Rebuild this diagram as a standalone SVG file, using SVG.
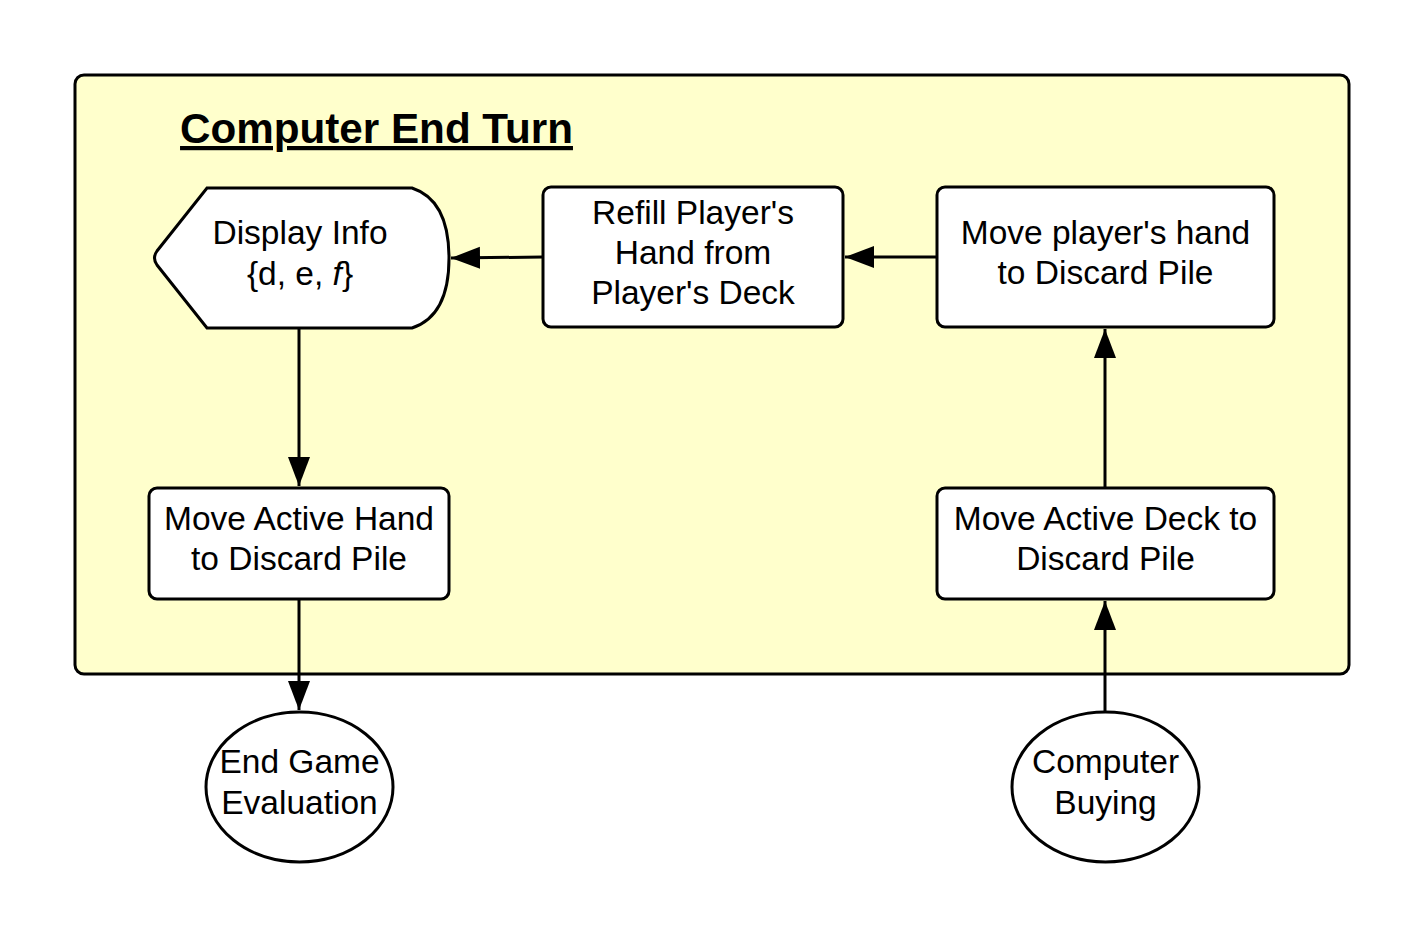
<svg xmlns="http://www.w3.org/2000/svg" width="1425" height="938" viewBox="0 0 1425 938">
<style>
.node{fill:#ffffff;stroke:#000000;stroke-width:3;}
.t{font-family:"Liberation Sans",Arial,sans-serif;font-size:33.5px;fill:#000000;text-anchor:middle;}
.conn{stroke:#000000;stroke-width:3;fill:none;marker-end:url(#arr);}
</style>
<defs>
<marker id="arr" markerUnits="userSpaceOnUse" markerWidth="30" markerHeight="24" refX="29" refY="11" orient="auto">
<path d="M0,0 L29,11 L0,22 Z" fill="#000000"/>
</marker>
</defs>
<rect x="0" y="0" width="1425" height="938" fill="#ffffff"/>
<g id="container">
<rect x="75" y="75" width="1274" height="599" rx="9" fill="#ffffcc" stroke="#000000" stroke-width="3"/>
<text x="376.5" y="143" style="font-family:'Liberation Sans',Arial,sans-serif;font-size:42.2px;font-weight:bold;text-anchor:middle;text-decoration:underline;">Computer End Turn</text>
</g>
<g id="display-info">
<path class="node" d="M207,188 L412,188 Q449,200 449,258 Q449,316 412,328 L207,328 L157,265 Q152,258 157,251 Z"/>
<text class="t" x="300" y="244">Display Info</text>
<text class="t" x="300" y="285">{d, e, <tspan font-style="italic">f</tspan>}</text>
</g>
<g id="refill">
<rect class="node" x="543" y="187" width="300" height="140" rx="8"/>
<text class="t" x="693" y="224">Refill Player's</text>
<text class="t" x="693" y="264">Hand from</text>
<text class="t" x="693" y="304">Player's Deck</text>
</g>
<g id="move-player-hand">
<rect class="node" x="937" y="187" width="337" height="140" rx="8"/>
<text class="t" x="1105.5" y="244">Move player's hand</text>
<text class="t" x="1105.5" y="284">to Discard Pile</text>
</g>
<g id="move-active-hand">
<rect class="node" x="149" y="488" width="300" height="111" rx="8"/>
<text class="t" x="299" y="530">Move Active Hand</text>
<text class="t" x="299" y="570">to Discard Pile</text>
</g>
<g id="move-active-deck">
<rect class="node" x="937" y="488" width="337" height="111" rx="8"/>
<text class="t" x="1105.5" y="530">Move Active Deck to</text>
<text class="t" x="1105.5" y="570">Discard Pile</text>
</g>
<g id="end-game">
<ellipse class="node" cx="299.5" cy="787" rx="93.5" ry="75"/>
<text class="t" x="299.5" y="773">End Game</text>
<text class="t" x="299.5" y="814">Evaluation</text>
</g>
<g id="computer-buying">
<ellipse class="node" cx="1105.5" cy="787" rx="93.5" ry="75"/>
<text class="t" x="1105.5" y="773">Computer</text>
<text class="t" x="1105.5" y="814">Buying</text>
</g>
<g id="connectors">
<path class="conn" d="M543,257 L451,258"/>
<path class="conn" d="M937,257 L845,257"/>
<path class="conn" d="M1105,488 L1105,329"/>
<path class="conn" d="M1105,712 L1105,601"/>
<path class="conn" d="M299,328 L299,486"/>
<path class="conn" d="M299,599 L299,710"/>
</g>
</svg>
